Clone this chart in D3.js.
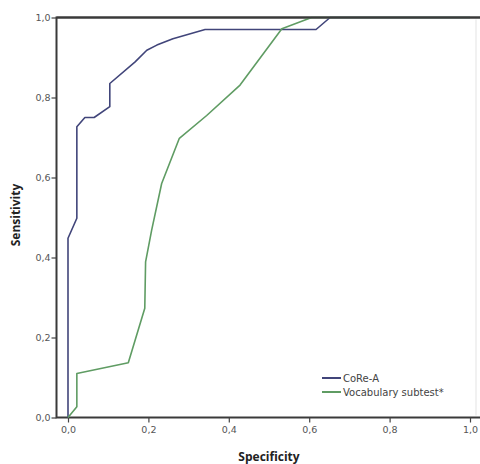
<!DOCTYPE html>
<html>
<head>
<meta charset="utf-8">
<script src="https://cdn.jsdelivr.net/npm/d3@7"></script>
<style>
  html, body { margin: 0; padding: 0; background: #fff; }
  svg { display: block; }
</style>
</head>
<body>
<svg id="chart" width="480" height="464"></svg>
<script>
// ---- data ----
const xTicks = [0, 0.2, 0.4, 0.6, 0.8, 1.0];
const yTicks = [0, 0.2, 0.4, 0.6, 0.8, 1.0];
const seriesNames = ["CoRe-A", "Vocabulary subtest*"];
const coreaX = [0, 0, 0.022, 0.022, 0.042, 0.065, 0.104, 0.104, 0.167, 0.196, 0.221, 0.261, 0.341, 0.617, 0.652, 1];
const coreaY = [0, 0.448, 0.498, 0.727, 0.750, 0.750, 0.777, 0.835, 0.889, 0.918, 0.931, 0.947, 0.970, 0.970, 1, 1];
const vocabX = [0, 0.022, 0.022, 0.150, 0.191, 0.193, 0.208, 0.233, 0.277, 0.345, 0.428, 0.532, 0.606, 1];
const vocabY = [0, 0.027, 0.110, 0.137, 0.273, 0.389, 0.468, 0.585, 0.698, 0.755, 0.831, 0.972, 1, 1];

const colors = ["#41457a", "#5f9c63"];

const svg = d3.select("#chart");
const x = d3.scaleLinear().domain([0, 1]).range([68, 470]);
const y = d3.scaleLinear().domain([0, 1]).range([417.5, 17.5]);
const frameLeft = 56.5, frameRight = 483;
const fmt = d => d3.format(".1f")(d).replace(".", ",");

// frame
svg.append("rect")
  .attr("x", frameLeft).attr("y", y(1))
  .attr("width", frameRight - frameLeft).attr("height", y(0) - y(1))
  .attr("fill", "#fff").attr("stroke", "#3a3a3a").attr("stroke-width", 2);

// faint right edge
svg.append("line").attr("x1", 476).attr("x2", 476).attr("y1", y(1) + 2).attr("y2", y(0) - 2)
  .attr("stroke", "#ececec").attr("stroke-width", 1.5);

// y axis
const yAxis = svg.append("g")
  .attr("transform", `translate(${frameLeft},0)`)
  .call(d3.axisLeft(y).tickValues(yTicks).tickFormat(fmt).tickSize(5).tickSizeOuter(0));
yAxis.select(".domain").remove();
yAxis.selectAll("line").attr("stroke", "#444").attr("stroke-width", 1.2);
yAxis.selectAll("text").attr("fill", "#555").style("font-family", "DejaVu Sans, sans-serif").style("font-size", "9.5px").attr("x", -6);

// x axis
const xAxis = svg.append("g")
  .attr("transform", `translate(0,${y(0)})`)
  .call(d3.axisBottom(x).tickValues(xTicks).tickFormat(fmt).tickSize(5).tickSizeOuter(0));
xAxis.select(".domain").remove();
xAxis.selectAll("line").attr("stroke", "#444").attr("stroke-width", 1.2);
xAxis.selectAll("text").attr("fill", "#555").style("font-family", "DejaVu Sans, sans-serif").style("font-size", "9.5px").attr("y", 9);

// curves
const line = d3.line().x(d => x(d[0])).y(d => y(d[1]));
const corea = coreaX.map((v, i) => [v, coreaY[i]]);
const vocab = vocabX.map((v, i) => [v, vocabY[i]]);
[corea, vocab].forEach((pts, i) => {
  svg.append("path").datum(pts)
    .attr("d", line)
    .attr("fill", "none")
    .attr("stroke", colors[i])
    .attr("stroke-width", 1.6)
    .attr("stroke-linejoin", "round");
});

// redraw top frame line over curves
svg.append("line").attr("x1", frameLeft).attr("x2", 480).attr("y1", y(1)).attr("y2", y(1))
  .attr("stroke", "#3a3a3a").attr("stroke-width", 2);

// axis titles
svg.append("text")
  .attr("transform", `translate(20,215) rotate(-90)`)
  .attr("text-anchor", "middle")
  .style("font-family", "Open Sans, DejaVu Sans, sans-serif")
  .style("font-size", "12px").style("font-weight", "bold").attr("fill", "#222")
  .text("Sensitivity");
svg.append("text")
  .attr("x", 269).attr("y", 461)
  .attr("text-anchor", "middle")
  .style("font-family", "Open Sans, DejaVu Sans, sans-serif")
  .style("font-size", "12px").style("font-weight", "bold").attr("fill", "#222")
  .text("Specificity");

// legend
const leg = svg.append("g");
seriesNames.forEach((name, i) => {
  const ly = 378 + i * 14;
  leg.append("line").attr("x1", 322).attr("x2", 341).attr("y1", ly).attr("y2", ly)
    .attr("stroke", colors[i]).attr("stroke-width", 2);
  leg.append("text").attr("x", 343).attr("y", ly + 4)
    .style("font-family", "DejaVu Sans, sans-serif").style("font-size", "10px")
    .attr("fill", "#444").text(name);
});
</script>
</body>
</html>
